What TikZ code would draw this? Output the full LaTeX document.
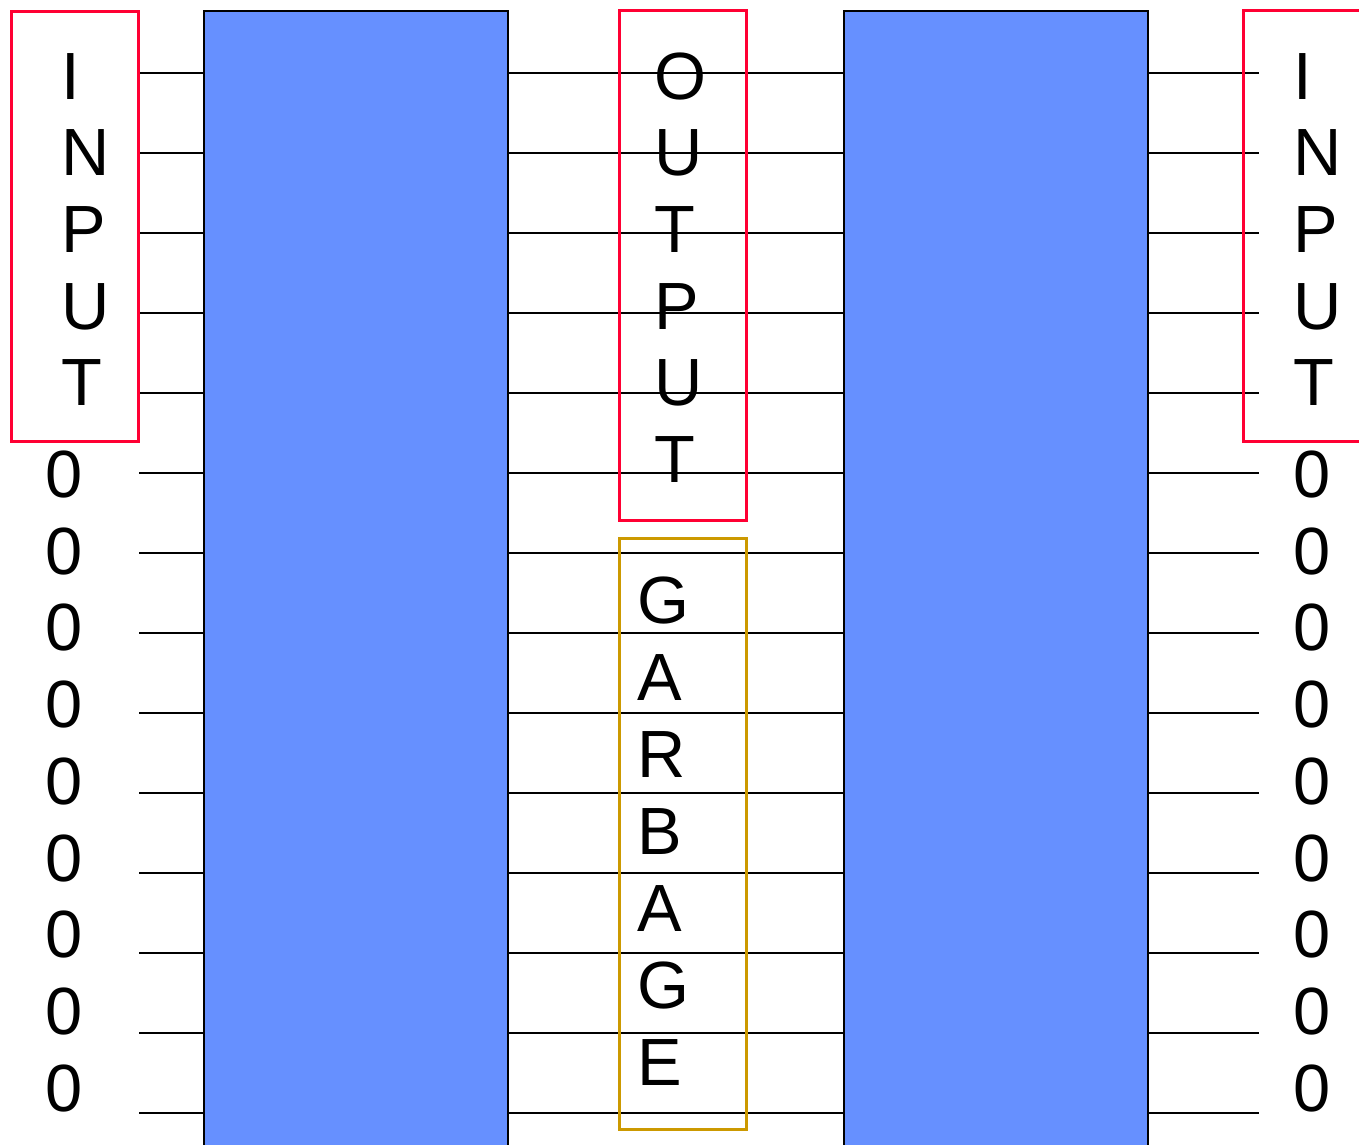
\documentclass[tikz,border=0pt]{standalone}
\usepackage{fontspec}
\setmainfont{Liberation Sans}
\definecolor{blockblue}{HTML}{6690FF}
\definecolor{boxred}{HTML}{FF0033}
\definecolor{boxgold}{HTML}{CC9900}
\tikzset{
  wire/.style={draw=black, line width=2pt},
  block/.style={draw=black, line width=2pt, fill=blockblue, inner sep=0pt,
    minimum width=304pt, minimum height=1160pt, anchor=north west},
  redbox/.style={draw=boxred, line width=3pt},
  goldbox/.style={draw=boxgold, line width=3pt},
  lbl/.style={font=\fontsize{66.8}{76.8}\selectfont, inner sep=0pt, anchor=base west},
}
\begin{document}
\begin{tikzpicture}[x=1pt, y=-1pt]
\useasboundingbox (0,0) rectangle (1359,1144);
\clip (0,0) rectangle (1359,1144);
% blocks
\node[block] (blkA) at (203,10) {};
\node[block] (blkB) at (843,10) {};
% wires
\foreach \k in {0,...,13} {
  \pgfmathsetmacro\yy{73+80*\k}
  \coordinate (wl\k) at (139,\yy);
  \coordinate (wr\k) at (1259,\yy);
  \draw[wire] (wl\k) -- (blkA.west |- wl\k);
  \draw[wire] (blkA.east |- wl\k) -- (blkB.west |- wl\k);
  \draw[wire] (blkB.east |- wl\k) -- (wr\k);
}
% boxes
\draw[redbox] (11,11) rectangle (138.5,441);
\draw[redbox] (619.5,10.5) rectangle (746,520.5);
\draw[goldbox] (619.5,538) rectangle (746,1129);
\draw[redbox] (1243,10.5) rectangle (1380,441);
% texts
\foreach \c [count=\i from 0] in {I,N,P,U,T}
  \node[lbl] (inL\i) at (61,{99+76.7*\i}) {\c};
\foreach \c [count=\i from 0] in {I,N,P,U,T}
  \node[lbl] (inR\i) at (1293,{99+76.7*\i}) {\c};
\foreach \i in {0,...,8}
  \node[lbl] (zL\i) at (45,{497.5+76.7*\i}) {0};
\foreach \i in {0,...,8}
  \node[lbl] (zR\i) at (1293,{497.5+76.7*\i}) {0};
\foreach \c [count=\i from 0] in {O,U,T,P,U,T}
  \node[lbl] (out\i) at (654,{99+76.7*\i}) {\c};
\foreach \c [count=\i from 0] in {G,A,R,B,A,G,E}
  \node[lbl] (gar\i) at (637,{623.5+77*\i}) {\c};
\end{tikzpicture}
\end{document}
